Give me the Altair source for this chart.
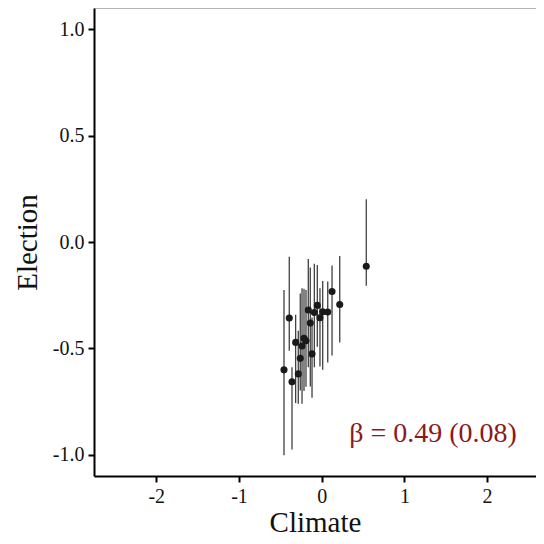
import altair as alt
import pandas as pd

climate = [-0.456, -0.392, -0.359, -0.315, -0.283, -0.259, -0.238, -0.214, -0.190, -0.162,
           -0.138, -0.117, -0.089, -0.053, -0.021, 0.012, 0.073, 0.125, 0.218, 0.539]
election = [-0.601, -0.357, -0.657, -0.472, -0.620, -0.547, -0.489, -0.453, -0.464, -0.320,
            -0.381, -0.526, -0.331, -0.298, -0.356, -0.328, -0.329, -0.233, -0.294, -0.114]
lower = [-1.002, -0.511, -0.976, -0.757, -0.760, -0.698, -0.760, -0.700, -0.680, -0.589,
         -0.679, -0.732, -0.589, -0.492, -0.585, -0.601, -0.567, -0.533, -0.472, -0.206]
upper = [-0.226, -0.069, -0.589, -0.342, -0.417, -0.242, -0.217, -0.220, -0.226, -0.080,
         -0.120, -0.355, -0.102, -0.108, -0.217, -0.183, -0.186, -0.111, -0.066, 0.201]

x_ticks = [-2, -1, 0, 1, 2]
y_ticks = [-1.0, -0.5, 0.0, 0.5, 1.0]
label_text = ["β = 0.49 (0.08)"]
label_x = [1.346]
label_y = [-0.904]

df = pd.DataFrame({"Climate": climate, "Election": election, "lo": lower, "hi": upper})
ann = pd.DataFrame({"x": label_x, "y": label_y, "t": label_text})

FONT = "Liberation Serif"

xs = alt.Scale(domain=[-2.753, 2.591], nice=False, zero=False)
ys = alt.Scale(domain=[-1.1, 1.1], nice=False, zero=False)

xaxis = alt.Axis(values=x_ticks, grid=False, title="Climate",
                 labelExpr="replace(format(datum.value, 'd'), '\u2212', '-')")
yaxis = alt.Axis(values=y_ticks, grid=False, title="Election",
                 labelExpr="replace(format(datum.value, '.1f'), '\u2212', '-')")

bars = alt.Chart(df).mark_rule(color="#111111", strokeWidth=1.3, opacity=0.8).encode(
    x=alt.X("Climate:Q", scale=xs, axis=xaxis),
    y=alt.Y("lo:Q", scale=ys, axis=yaxis),
    y2="hi:Q",
)

pts = alt.Chart(df).mark_circle(color="#1a1a1a", size=50, opacity=1).encode(
    x=alt.X("Climate:Q", scale=xs),
    y=alt.Y("Election:Q", scale=ys),
)

txt = alt.Chart(ann).mark_text(
    font=FONT, fontSize=28, color="#8B1A1A", align="center", baseline="middle"
).encode(
    x=alt.X("x:Q", scale=xs),
    y=alt.Y("y:Q", scale=ys),
    text="t:N",
)

top = alt.Chart(ann).mark_rule(color="#444444", strokeWidth=0.8).encode(
    y=alt.datum(1.1, scale=ys),
)

chart = alt.layer(top, bars, pts, txt).properties(
    width=442,
    height=468,
    autosize=alt.AutoSizeParams(type="none"),
    padding={"left": 86, "top": 0, "right": 0, "bottom": 60},
).configure_view(stroke=None).configure_axis(
    labelFont=FONT,
    titleFont=FONT,
    labelFontSize=20,
    titleFontSize=29,
    labelColor="#111111",
    titleColor="#111111",
    titleFontWeight="normal",
    domainColor="#000000",
    domainWidth=2,
    tickColor="#000000",
    tickWidth=2,
    tickSize=6,
    labelPadding=4,
).configure_axisX(titlePadding=2).configure_axisY(titlePadding=10)

chart.save("out.html", embed_options={"renderer": "svg", "actions": False})
